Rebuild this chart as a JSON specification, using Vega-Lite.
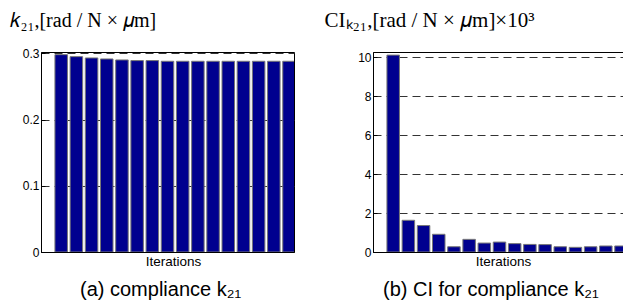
{
  "$schema": "https://vega.github.io/schema/vega-lite/v6.json",
  "autosize": "pad",
  "padding": {"left": 8, "top": 8, "right": 0, "bottom": 0},
  "bounds": "flush",
  "spacing": 79,
  "config": {
    "font": "Liberation Sans",
    "view": {"stroke": "black", "strokeWidth": 1},
    "axis": {
      "labelFont": "Liberation Sans",
      "labelFontSize": 12,
      "labelColor": "black",
      "domainColor": "black",
      "tickColor": "black",
      "tickSize": -4,
      "labelPadding": 6,
      "gridColor": "#333333",
      "gridDash": [8, 5],
      "gridOpacity": 1,
      "gridWidth": 1,
      "titleColor": "black",
      "titleFontWeight": "normal"
    },
    "title": {"color": "black", "fontWeight": "normal", "font": "Liberation Sans", "fontSize": 20}
  },
  "hconcat": [
    {
      "width": 253,
      "height": 200,
      "data": {"values": [
        {"iteration": 1, "k21": 0.298},
        {"iteration": 2, "k21": 0.295},
        {"iteration": 3, "k21": 0.293},
        {"iteration": 4, "k21": 0.2915},
        {"iteration": 5, "k21": 0.290},
        {"iteration": 6, "k21": 0.289},
        {"iteration": 7, "k21": 0.289},
        {"iteration": 8, "k21": 0.288},
        {"iteration": 9, "k21": 0.288},
        {"iteration": 10, "k21": 0.288},
        {"iteration": 11, "k21": 0.288},
        {"iteration": 12, "k21": 0.288},
        {"iteration": 13, "k21": 0.288},
        {"iteration": 14, "k21": 0.288},
        {"iteration": 15, "k21": 0.288},
        {"iteration": 16, "k21": 0.288}
      ]},
      "title": {"text": "(a) compliance k₂₁", "orient": "bottom", "anchor": "start", "frame": "group", "dx": 39, "offset": 12},
      "mark": {"type": "bar", "width": 12.5, "fill": "#00008F", "stroke": "#777777", "strokeWidth": 1, "clip": true},
      "encoding": {
        "x": {"field": "iteration", "type": "quantitative",
          "scale": {"domain": [0, 16], "nice": false, "zero": false},
          "axis": {"title": "Iterations", "labels": false, "ticks": false, "grid": false, "titleFontSize": 13.5, "titlePadding": 2, "titleX": 132}},
        "y": {"field": "k21", "type": "quantitative",
          "scale": {"domain": [0, 0.302], "nice": false},
          "axis": {"values": [0, 0.1, 0.2, 0.3], "format": "~g", "grid": true,
            "title": "𝑘₂₁,[rad / N × 𝜇m]", "titleAngle": 0, "titleX": -32, "titleY": -26,
            "titleAlign": "left", "titleBaseline": "alphabetic", "titleFont": "Liberation Serif", "titleFontSize": 20}}
      }
    },
    {
      "width": 253,
      "height": 200,
      "data": {"values": [
        {"iteration": 1, "ci": 10.12},
        {"iteration": 2, "ci": 1.63},
        {"iteration": 3, "ci": 1.36},
        {"iteration": 4, "ci": 0.91},
        {"iteration": 5, "ci": 0.27},
        {"iteration": 6, "ci": 0.65},
        {"iteration": 7, "ci": 0.46},
        {"iteration": 8, "ci": 0.51},
        {"iteration": 9, "ci": 0.43},
        {"iteration": 10, "ci": 0.39},
        {"iteration": 11, "ci": 0.38},
        {"iteration": 12, "ci": 0.27},
        {"iteration": 13, "ci": 0.24},
        {"iteration": 14, "ci": 0.27},
        {"iteration": 15, "ci": 0.31},
        {"iteration": 16, "ci": 0.31}
      ]},
      "title": {"text": "(b) CI for compliance k₂₁", "orient": "bottom", "anchor": "start", "frame": "group", "dx": 10, "offset": 12},
      "mark": {"type": "bar", "width": 12.5, "fill": "#00008F", "stroke": "#777777", "strokeWidth": 1, "clip": true},
      "encoding": {
        "x": {"field": "iteration", "type": "quantitative",
          "scale": {"domain": [0, 16], "nice": false, "zero": false},
          "axis": {"title": "Iterations", "labels": false, "ticks": false, "grid": false, "titleFontSize": 13.5, "titlePadding": 2, "titleX": 130}},
        "y": {"field": "ci", "type": "quantitative",
          "scale": {"domain": [0, 10.28], "nice": false},
          "axis": {"values": [0, 2, 4, 6, 8, 10], "format": "d", "grid": true,
            "title": "CIₖ₂₁,[rad / N × 𝜇m]×10³", "titleAngle": 0, "titleX": -49, "titleY": -26,
            "titleAlign": "left", "titleBaseline": "alphabetic", "titleFont": "Liberation Serif", "titleFontSize": 21}}
      }
    }
  ]
}
